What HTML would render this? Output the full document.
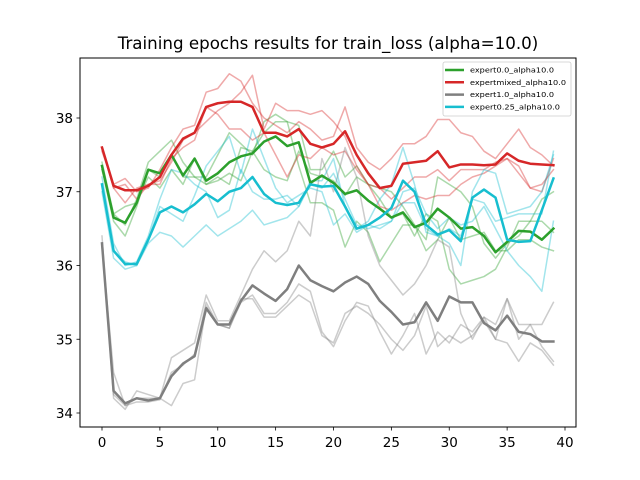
<!DOCTYPE html>
<html><head><meta charset="utf-8"><style>
body{margin:0;background:#fff;}
svg{display:block;font-family:"DejaVu Sans","Liberation Sans",sans-serif;}
</style></head><body>
<svg id="chart" width="640" height="480"></svg>
<script>
const epochs = Array.from({length:40},(_,i)=>i);
const xTicks = [0,5,10,15,20,25,30,35,40];
const yTicks = [34,35,36,37,38];
const seriesNames = ["expert0.0_alpha10.0","expertmixed_alpha10.0","expert1.0_alpha10.0","expert0.25_alpha10.0"];
const seriesColors = ["#2ca02c","#d62728","#7f7f7f","#17becf"];
const greenMean = [37.35,36.65,36.58,36.85,37.3,37.25,37.5,37.22,37.45,37.15,37.25,37.4,37.48,37.52,37.68,37.75,37.62,37.67,37.12,37.22,37.12,36.97,37.02,36.88,36.77,36.65,36.72,36.52,36.58,36.77,36.65,36.5,36.52,36.4,36.18,36.32,36.47,36.46,36.35,36.5];
const redMean = [37.6,37.08,37.02,37.02,37.08,37.2,37.5,37.72,37.8,38.15,38.2,38.22,38.22,38.15,37.8,37.8,37.75,37.85,37.65,37.6,37.65,37.82,37.5,37.25,37.05,37.08,37.38,37.4,37.42,37.55,37.33,37.37,37.37,37.36,37.37,37.52,37.42,37.38,37.37,37.36];
const grayMean = [36.3,34.3,34.13,34.2,34.17,34.2,34.5,34.67,34.77,35.42,35.2,35.2,35.52,35.73,35.62,35.52,35.68,36.0,35.8,35.72,35.65,35.77,35.85,35.75,35.52,35.37,35.2,35.23,35.5,35.25,35.58,35.5,35.5,35.22,35.12,35.32,35.1,35.07,34.97,34.97];
const cyanMean = [37.1,36.2,36.02,36.02,36.35,36.72,36.8,36.72,36.83,36.97,36.87,37.0,37.05,37.2,36.97,36.85,36.82,36.85,37.1,37.07,37.08,36.8,36.5,36.55,36.65,36.78,37.15,37.0,36.55,36.42,36.48,36.33,36.92,37.03,36.92,36.35,36.32,36.33,36.75,37.18];
const redRun1 = [37.55,37.1,37.18,37.0,37.05,37.3,37.6,37.85,37.9,38.35,38.4,38.6,38.5,38.2,38.0,37.9,37.8,37.95,37.85,37.7,37.75,38.15,37.6,37.4,37.3,37.45,37.65,37.65,37.75,37.98,37.98,37.8,37.75,37.55,37.45,37.65,37.85,37.6,37.5,37.35];
const redRun2 = [37.6,37.05,37.1,36.9,37.1,37.15,37.4,37.7,37.8,37.95,38.1,38.2,38.35,38.58,37.85,38.2,38.1,38.1,38.05,38.1,37.95,37.75,37.35,37.1,37.05,36.9,37.05,37.2,37.2,37.3,37.15,37.3,37.3,37.3,37.4,37.45,37.35,37.05,37.0,37.45];
const redRun3 = [37.6,37.05,36.85,37.05,37.1,37.1,37.45,37.6,37.7,38.15,38.05,37.85,37.85,37.7,37.8,37.5,37.2,37.5,37.45,37.6,37.5,37.55,37.3,37.1,36.8,36.75,36.85,36.95,36.9,36.95,36.95,37.1,37.2,37.25,37.35,37.45,37.25,37.05,37.1,37.3];
const greenRun1 = [37.3,36.7,36.55,36.9,37.4,37.55,37.7,37.4,37.2,37.2,37.5,37.8,37.65,37.5,37.95,38.05,37.95,37.9,37.3,37.3,37.55,37.2,37.35,37.1,37.05,37.0,36.8,36.55,36.35,37.2,37.1,37.0,36.8,36.3,36.1,36.3,36.4,36.6,36.9,37.0];
const greenRun2 = [37.3,36.6,36.4,36.8,37.3,37.2,37.5,37.2,37.2,37.1,37.15,37.25,37.15,37.55,37.8,37.95,37.95,37.35,36.85,36.85,36.75,36.25,36.6,36.45,36.05,36.3,36.55,36.55,36.2,36.35,36.65,36.35,36.4,36.45,36.2,36.2,36.35,36.35,36.25,36.2];
const greenRun3 = [37.4,36.7,36.8,36.85,37.2,37.05,37.3,37.1,37.45,37.1,37.2,37.1,37.6,37.55,37.3,37.2,37.15,37.55,37.25,37.2,37.15,36.95,37.2,37.1,36.9,36.65,36.7,36.4,36.7,36.6,35.95,35.75,35.8,35.85,35.95,36.25,36.6,36.6,36.6,36.45];
const cyanRun1 = [37.0,36.1,35.95,36.0,36.3,36.45,36.4,36.25,36.4,36.55,36.4,36.5,36.6,36.75,36.55,36.6,36.65,36.8,37.1,37.05,37.25,36.9,36.55,36.5,36.55,36.6,37.0,37.05,36.7,36.5,36.65,36.55,36.6,36.8,36.5,36.2,36.0,35.85,35.65,36.6];
const cyanRun2 = [37.2,36.3,36.0,36.05,36.4,36.9,37.3,37.25,37.1,37.0,36.65,36.75,37.3,37.0,36.9,36.9,36.95,36.8,37.15,37.15,37.45,36.8,36.5,36.6,36.9,37.1,37.6,37.1,36.45,36.4,36.5,36.4,36.9,36.85,36.6,36.65,36.7,36.7,36.7,37.55];
const cyanRun3 = [37.1,36.2,36.05,36.0,36.35,36.8,36.7,36.6,36.95,37.35,37.55,37.75,37.25,37.85,37.45,37.05,36.85,36.95,37.05,37.0,36.55,36.7,36.45,36.55,36.5,36.6,36.85,36.85,36.5,36.4,36.3,36.0,37.0,37.3,37.25,36.7,36.75,36.8,37.0,37.5];
const grayRun1 = [36.4,34.2,34.05,34.3,34.25,34.2,34.75,34.85,34.95,35.6,35.25,35.25,35.6,35.95,36.2,36.05,36.2,36.6,36.4,37.45,37.0,37.6,37.2,36.4,36.0,35.8,35.6,35.75,36.0,36.35,36.25,35.35,35.0,35.3,35.2,35.55,35.2,35.2,35.2,35.5];
const grayRun2 = [36.3,34.25,34.1,34.15,34.15,34.18,34.55,34.65,34.8,35.5,35.2,35.15,35.5,35.6,35.35,35.35,35.5,35.75,35.65,35.1,34.9,35.25,35.5,35.45,35.1,34.8,35.05,35.35,34.8,35.1,34.95,35.2,35.1,35.3,35.0,35.55,35.0,35.2,34.9,34.7];
const grayRun3 = [36.25,34.55,34.1,34.2,34.2,34.2,34.1,34.4,34.45,35.45,35.2,35.15,35.55,35.55,35.3,35.3,35.45,35.6,35.5,35.05,34.95,35.35,35.45,35.35,35.2,35.0,34.85,35.05,35.45,34.9,35.05,34.95,35.05,35.25,35.0,34.95,34.7,34.95,34.85,34.65];

const NS="http://www.w3.org/2000/svg";
const svg=document.getElementById('chart');
const L=80,R=576,T=58,B=427;
function xs(v){return 102+(v-0)*(565-102)/40;}
function ys(v){return 413-(v-34)*(413-118)/4;}
function mk(tag,attrs,parent){const e=document.createElementNS(NS,tag);for(const k in attrs)e.setAttribute(k,attrs[k]);(parent||svg).appendChild(e);return e;}

const title=mk('text',{x:328,y:49,'text-anchor':'middle','font-size':'16.7',fill:'#000'});


title.textContent='Training epochs results for train_loss (alpha=10.0)';

function line(vals,color,width,opacity,name){
  const d=vals.map((v,i)=>(i?'L':'M')+xs(epochs[i]).toFixed(2)+','+ys(v).toFixed(2)).join(' ');
  const p=mk('path',{d:d,fill:'none',stroke:color,'stroke-width':width,'stroke-opacity':opacity,'stroke-linejoin':'round','stroke-linecap':'square'});
  
  
}
const runs=[[greenRun1,0,'green-run-1'],[greenRun2,0,'green-run-2'],[greenRun3,0,'green-run-3'],
[redRun1,1,'red-run-1'],[redRun2,1,'red-run-2'],[redRun3,1,'red-run-3'],
[grayRun1,2,'gray-run-1'],[grayRun2,2,'gray-run-2'],[grayRun3,2,'gray-run-3'],
[cyanRun1,3,'cyan-run-1'],[cyanRun2,3,'cyan-run-2'],[cyanRun3,3,'cyan-run-3']];
runs.forEach(r=>line(r[0],seriesColors[r[1]],1.5,0.4,r[2]));
line(greenMean,seriesColors[0],2.5,1,'expert0-mean-line');
line(redMean,seriesColors[1],2.5,1,'expertmixed-mean-line');
line(grayMean,seriesColors[2],2.5,1,'expert1-mean-line');
line(cyanMean,seriesColors[3],2.5,1,'expert025-mean-line');

const frame=mk('rect',{x:L,y:T,width:R-L,height:B-T,fill:'none',stroke:'#000','stroke-width':1});



xTicks.forEach(t=>{
  const tk=mk('line',{x1:xs(t),x2:xs(t),y1:B,y2:B+3.5,stroke:'#000','stroke-width':0.8});
  
  
  const tx=mk('text',{x:xs(t),y:B+20,'text-anchor':'middle','font-size':'13.5',fill:'#000'});
  
  
  tx.textContent=t;
});
yTicks.forEach(t=>{
  const tk=mk('line',{x1:L-3.5,x2:L,y1:ys(t),y2:ys(t),stroke:'#000','stroke-width':0.8});
  
  
  const tx=mk('text',{x:L-7,y:ys(t)+5,'text-anchor':'end','font-size':'13.5',fill:'#000'});
  
  
  tx.textContent=t;
});

const lg=mk('g',{});


const lbox=mk('rect',{x:443,y:62,width:128,height:54,rx:2,fill:'#fff','fill-opacity':0.8,stroke:'#ccc','stroke-width':0.8},lg);


seriesNames.forEach((n,i)=>{
  const y=70+i*12.3;
  const ln=mk('line',{x1:445,x2:464,y1:y,y2:y,stroke:seriesColors[i],'stroke-width':2.5},lg);
  
  
  const tx=mk('text',{x:470,y:y+2.5,'font-size':'7','textLength':96,'lengthAdjust':'spacingAndGlyphs',fill:'#000'},lg);
  if(i===0||i===2) tx.setAttribute('textLength',84);
  if(i===3) tx.setAttribute('textLength',90);
  
  
  tx.textContent=n;
});
</script>
</body></html>
